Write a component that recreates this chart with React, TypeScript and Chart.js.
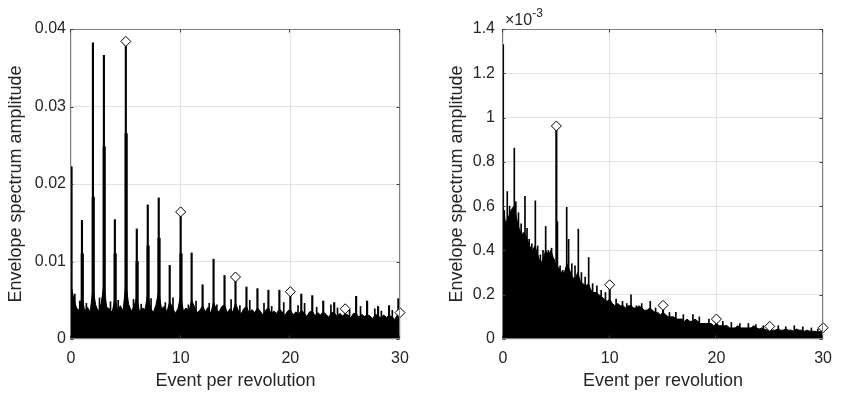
import React, { useEffect, useRef } from "react";
import { Chart, registerables } from "chart.js";
Chart.register(...registerables);

const FONT = "'Liberation Sans', Arial, Helvetica, sans-serif";
const TEXT = "#262626";

// ---------- shared ----------
const xTicks = [0, 10, 20, 30];
const NOISE_STEP = 0.25; // frequency resolution of the noise-floor table

// ---------- left panel (amplitude, x1e-3) ----------
const leftNoise = [
  7.0, 5.2, 4.0, 3.7, 5.5, 3.6, 4.1, 3.5, 6.5, 4.4, 3.5, 4.6, 7.0, 4.1, 3.9, 3.4,
  5.2, 3.7, 4.3, 3.6, 7.2, 4.5, 3.6, 4.2, 5.4, 3.5, 4.0, 3.8, 5.8, 4.0, 3.4, 4.4,
  6.2, 3.9, 4.2, 3.5, 4.8, 4.1, 3.3, 3.9, 5.6, 3.6, 4.0, 3.5, 5.0, 4.2, 3.4, 3.7,
  4.3, 3.5, 4.1, 3.3, 4.8, 3.8, 3.5, 4.2, 4.4, 3.4, 3.9, 3.5, 4.6, 3.7, 3.2, 3.9,
  4.2, 3.3, 3.8, 3.4, 4.0, 3.6, 3.1, 3.7, 4.1, 3.2, 3.6, 3.3, 3.9, 3.5, 3.0, 3.6,
  3.8, 3.1, 3.5, 3.2, 3.7, 3.4, 2.9, 3.5, 3.6, 3.0, 3.4, 3.1, 3.5, 3.2, 2.8, 3.4,
  3.4, 2.9, 3.3, 3.0, 3.2, 3.1, 2.7, 3.3, 3.3, 2.8, 3.2, 2.9, 3.1, 3.0, 2.6, 3.2,
  3.0, 2.7, 3.1, 2.8, 3.0, 2.9, 2.5, 3.1, 2.9,
];
const leftPeakX = [0, 1, 2, 3, 4, 5, 6, 7, 8, 9, 10, 11, 12, 13, 14, 15, 16, 17, 18, 19, 20, 21, 22, 23, 24, 25, 26, 27, 28, 29, 29.85];
const leftPeakY = [22.2, 15.3, 38.2, 36.6, 15.4, 38.3, 14.2, 17.3, 18.2, 9.5, 16.3, 11.1, 7.0, 10.3, 8.2, 8.0, 6.7, 6.5, 6.3, 6.3, 6.1, 5.8, 5.6, 4.9, 4.7, 3.9, 5.5, 4.9, 4.2, 4.3, 5.2];
const leftSubX = [0, 1.03, 2.03, 3.03, 4.03, 5.03, 6.03, 7.03, 8.03, 10.03];
const leftSubY = [22.2, 11.0, 18.3, 24.8, 11.0, 26.5, 10.0, 12.0, 13.0, 11.0];
const leftMinorX = [0.35, 0.8, 1.4, 2.6, 3.6, 4.3, 5.7, 6.4, 7.3, 8.6, 9.3, 10.7, 11.4, 12.6, 13.3, 14.6, 15.4, 16.3, 17.6, 18.3, 19.4, 20.7, 21.3, 22.4, 23.7, 24.3, 25.4, 26.4, 27.7, 28.3, 29.3];
const leftMinorY = [5.8, 4.9, 4.6, 5.3, 4.8, 5.0, 5.1, 4.5, 5.2, 4.7, 5.3, 4.4, 4.9, 4.6, 4.4, 5.1, 4.3, 5.0, 4.6, 4.2, 4.7, 4.3, 4.6, 4.1, 4.4, 4.0, 3.8, 4.2, 3.9, 3.6, 3.7];
const leftMarkX = [5, 10, 15, 20, 25, 30];
const leftMarkY = [38.4, 16.4, 8.0, 6.1, 3.9, 3.4];

// ---------- right panel (amplitude, x1e-3) ----------
const rightNoise = [
  0.60, 0.52, 0.55, 0.58, 0.60, 0.55, 0.50, 0.47, 0.48, 0.45, 0.42, 0.40, 0.42, 0.38, 0.34, 0.36,
  0.40, 0.38, 0.40, 0.36, 0.33, 0.32, 0.30, 0.30, 0.34, 0.31, 0.28, 0.27, 0.30, 0.26, 0.25, 0.24,
  0.25, 0.22, 0.21, 0.21, 0.20, 0.19, 0.18, 0.17, 0.18, 0.16, 0.15, 0.16, 0.15, 0.15, 0.14, 0.15,
  0.15, 0.14, 0.14, 0.15, 0.14, 0.13, 0.13, 0.14, 0.13, 0.12, 0.12, 0.11, 0.12, 0.11, 0.10, 0.10,
  0.10, 0.09, 0.09, 0.09, 0.08, 0.09, 0.08, 0.08, 0.09, 0.08, 0.07, 0.07, 0.07, 0.07, 0.07, 0.06,
  0.07, 0.06, 0.06, 0.06, 0.06, 0.05, 0.05, 0.05, 0.06, 0.05, 0.05, 0.05, 0.05, 0.05, 0.06, 0.05,
  0.045, 0.05, 0.045, 0.04, 0.05, 0.04, 0.04, 0.045, 0.04, 0.04, 0.045, 0.04, 0.04, 0.035, 0.045, 0.04,
  0.04, 0.035, 0.04, 0.035, 0.035, 0.035, 0.03, 0.035, 0.035,
];
const rightPeakX = [0, 5, 10, 15, 20, 25, 30];
const rightPeakY = [1.33, 0.962, 0.245, 0.152, 0.09, 0.057, 0.051];
const rightMinorX = [
  0.12, 0.25, 0.4, 0.62, 0.8, 1.06, 1.2, 1.45, 1.7, 1.9, 2.06, 2.25, 2.45, 2.7, 3.03, 3.25, 3.5, 3.75,
  4.0, 4.25, 4.55, 4.8, 5.1, 5.35, 5.6, 5.97, 6.15, 6.45, 6.75, 7.06, 7.35, 7.7, 8.03, 8.4, 8.8, 9.2,
  9.6, 10.6, 11.2, 11.6, 12.0, 12.5, 13.0, 13.8, 14.3, 15.6, 16.2, 16.9, 17.8, 18.4, 19.3, 20.6, 21.4,
  22.2, 23.0, 23.7, 24.4, 25.8, 26.5, 27.3, 28.1, 28.9, 29.5,
];
const rightMinorY = [
  0.58, 0.50, 0.666, 0.60, 0.56, 0.862, 0.62, 0.57, 0.52, 0.48, 0.644, 0.50, 0.45, 0.43, 0.624, 0.42, 0.38, 0.40,
  0.508, 0.40, 0.41, 0.36, 0.53, 0.33, 0.31, 0.595, 0.45, 0.34, 0.33, 0.496, 0.30, 0.28, 0.368, 0.25, 0.24, 0.22,
  0.21, 0.18, 0.17, 0.16, 0.20, 0.15, 0.16, 0.17, 0.14, 0.12, 0.12, 0.11, 0.11, 0.10, 0.09, 0.08, 0.075,
  0.07, 0.07, 0.065, 0.06, 0.06, 0.055, 0.06, 0.055, 0.05, 0.045,
];
const rightMarkX = [5, 10, 15, 20, 25, 30];
const rightMarkY = [0.962, 0.245, 0.152, 0.09, 0.057, 0.051];

const xTitle = "Event per revolution";
const yTitle = "Envelope spectrum amplitude";

type Panel = {
  noise: number[];
  scale: number;
  peaks: [number[], number[]];
  subs: [number[], number[]] | null;
  minor: [number[], number[]];
  marks: [number[], number[]];
  yMax: number;
  yStep: number;
  decimals: number;
  exponent: string | null;
  yAxisWidth: number;
  padRight: number;
  tickPad: number;
  titlePad: number;
};

const pts = (xs: number[], ys: number[], s: number) => xs.map((x, i) => ({ x, y: ys[i] * s }));

const boxPlugin = {
  id: "matlabBox",
  afterDatasetsDraw(chart: any, _args: any, opts: any) {
    const { ctx, chartArea: a, scales } = chart;
    ctx.save();
    const L = Math.round(a.left) - 0.5;
    const R = Math.round(a.right) - 0.5;
    const T = Math.round(a.top) + 0.5;
    const B = Math.round(a.bottom) - 0.5;
    ctx.strokeStyle = "#808080";
    ctx.lineWidth = 1;
    ctx.strokeRect(L, T, R - L, B - T);
    ctx.strokeStyle = "#404040";
    const tl = 3;
    ctx.beginPath();
    scales.x.ticks.forEach((t: any) => {
      const px = Math.round(scales.x.getPixelForValue(t.value)) - 0.5;
      ctx.moveTo(px, B); ctx.lineTo(px, B - tl);
      ctx.moveTo(px, T); ctx.lineTo(px, T + tl);
    });
    scales.y.ticks.forEach((t: any) => {
      const py = Math.round(scales.y.getPixelForValue(t.value)) + 0.5;
      ctx.moveTo(L, py); ctx.lineTo(L + tl, py);
      ctx.moveTo(R, py); ctx.lineTo(R - tl, py);
    });
    ctx.stroke();
    if (opts && opts.exponent) {
      ctx.fillStyle = TEXT;
      ctx.textBaseline = "alphabetic";
      ctx.textAlign = "left";
      ctx.font = `16px ${FONT}`;
      const base = "\u00d710";
      const x0 = a.left + 2;
      ctx.fillText(base, x0, a.top - 4);
      const w = ctx.measureText(base).width;
      ctx.font = `12px ${FONT}`;
      ctx.fillText(opts.exponent, x0 + w, a.top - 12);
    }
    ctx.restore();
  },
};

function makeConfig(p: Panel): any {
  const noisePts = p.noise.map((v, i) => ({ x: i * NOISE_STEP, y: v * p.scale }));
  const datasets: any[] = [
    {
      type: "line",
      data: noisePts,
      borderColor: "#000",
      backgroundColor: "#000",
      borderWidth: 1,
      fill: "origin",
      pointRadius: 0,
      tension: 0,
      order: 5,
    },
    {
      type: "bar",
      data: pts(p.minor[0], p.minor[1], p.scale),
      backgroundColor: "#000",
      borderWidth: 0,
      barThickness: 1,
      grouped: false,
      order: 4,
    },
    {
      type: "bar",
      data: pts(p.peaks[0], p.peaks[1], p.scale),
      backgroundColor: "#000",
      borderWidth: 0,
      barThickness: 1.5,
      grouped: false,
      order: 3,
    },
  ];
  if (p.subs) {
    datasets.push({
      type: "bar",
      data: pts(p.subs[0], p.subs[1], p.scale),
      backgroundColor: "#000",
      borderWidth: 0,
      barThickness: 2.5,
      grouped: false,
      order: 2,
    });
  }
  datasets.push({
    type: "scatter",
    data: pts(p.marks[0], p.marks[1], p.scale),
    pointStyle: "rectRot",
    pointRadius: 5,
    pointBackgroundColor: "#fff",
    pointBorderColor: "#000",
    pointBorderWidth: 1,
    showLine: false,
    clip: false,
    order: 0,
  });

  const fmt = (v: number) => String(Number(v.toFixed(p.decimals)));
  return {
    type: "bar",
    data: { datasets },
    plugins: [boxPlugin],
    options: {
      animation: false,
      responsive: false,
      maintainAspectRatio: false,
      devicePixelRatio: 1,
      layout: { padding: { left: 0, top: 29, right: p.padRight, bottom: 0 } },
      plugins: {
        legend: { display: false },
        tooltip: { enabled: false },
        matlabBox: { exponent: p.exponent },
      },
      scales: {
        x: {
          type: "linear",
          min: 0,
          max: 30,
          offset: false,
          afterBuildTicks: (s: any) => { s.ticks = xTicks.map((v) => ({ value: v })); },
          afterFit: (s: any) => { s.height = 58; },
          grid: { color: "#e3e3e3", lineWidth: 1, drawTicks: false, offset: false },
          border: { display: false },
          ticks: {
            color: TEXT,
            font: { family: FONT, size: 16 },
            padding: 10,
            maxRotation: 0,
            callback: (v: number) => String(v),
          },
          title: {
            display: true,
            text: xTitle,
            color: TEXT,
            font: { family: FONT, size: 18 },
            padding: { top: 0, bottom: 5 },
          },
        },
        y: {
          type: "linear",
          min: 0,
          max: p.yMax,
          afterFit: (s: any) => { s.width = p.yAxisWidth; },
          grid: { color: "#e3e3e3", lineWidth: 1, drawTicks: false },
          border: { display: false },
          ticks: {
            stepSize: p.yStep,
            color: TEXT,
            font: { family: FONT, size: 16 },
            padding: p.tickPad,
            callback: (v: number) => fmt(v),
          },
          title: {
            display: true,
            text: yTitle,
            color: TEXT,
            font: { family: FONT, size: 18 },
            padding: { top: p.titlePad, bottom: 0 },
          },
        },
      },
    },
  };
}

const leftPanel: Panel = {
  noise: leftNoise,
  scale: 0.001,
  peaks: [leftPeakX, leftPeakY],
  subs: [leftSubX, leftSubY],
  minor: [leftMinorX, leftMinorY],
  marks: [leftMarkX, leftMarkY],
  yMax: 0.04,
  yStep: 0.01,
  decimals: 2,
  exponent: null,
  yAxisWidth: 71,
  padRight: 21,
  tickPad: 5,
  titlePad: 5,
};

const rightPanel: Panel = {
  noise: rightNoise,
  scale: 1,
  peaks: [rightPeakX, rightPeakY],
  subs: null,
  minor: [rightMinorX, rightMinorY],
  marks: [rightMarkX, rightMarkY],
  yMax: 1.4,
  yStep: 0.2,
  decimals: 1,
  exponent: "-3",
  yAxisWidth: 82,
  padRight: 9,
  tickPad: 8,
  titlePad: 25,
};

function PanelChart({ panel, left }: { panel: Panel; left: number }) {
  const ref = useRef<HTMLCanvasElement | null>(null);
  useEffect(() => {
    if (!ref.current) return;
    const chart = new Chart(ref.current, makeConfig(panel));
    return () => chart.destroy();
  }, [panel]);
  return (
    <canvas
      ref={ref}
      width={421}
      height={397}
      style={{ position: "absolute", left, top: 0, width: 421, height: 397, display: "block" }}
    />
  );
}

export default function App() {
  return (
    <div style={{ position: "absolute", left: 0, top: 0, width: 842, height: 397, background: "#fff", overflow: "hidden" }}>
      <PanelChart panel={leftPanel} left={0} />
      <PanelChart panel={rightPanel} left={421} />
    </div>
  );
}
